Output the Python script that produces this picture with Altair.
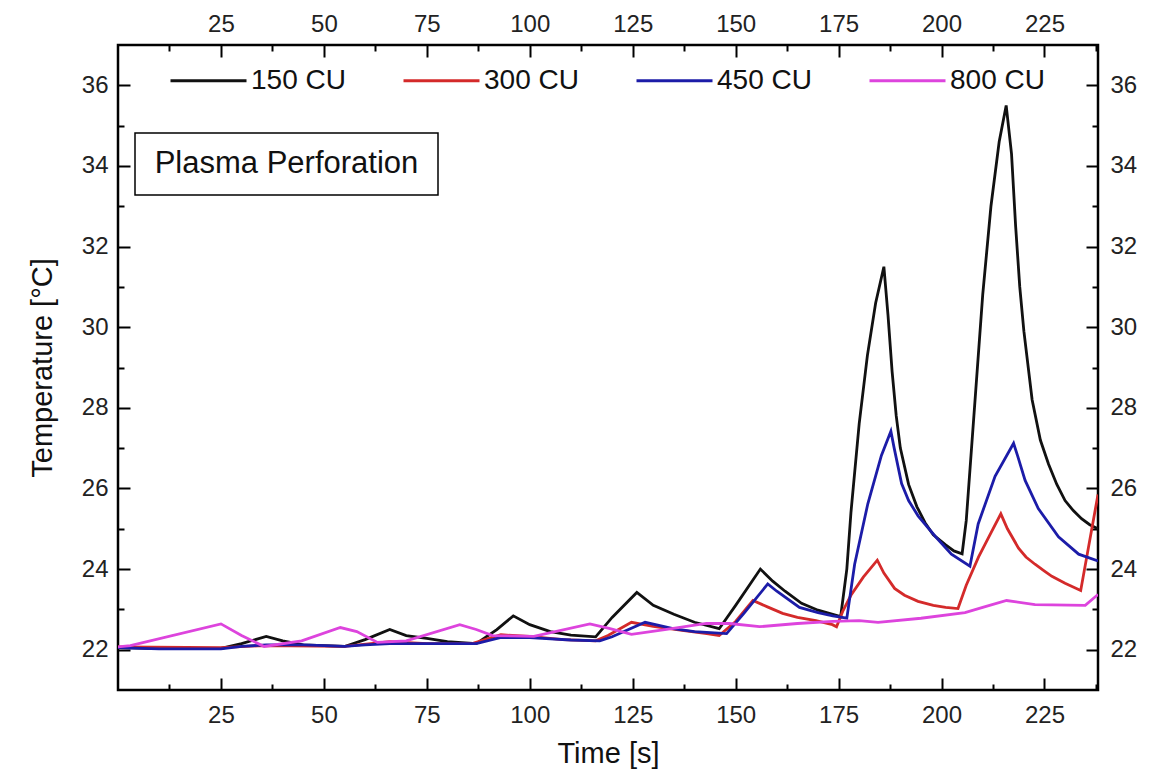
import altair as alt
import pandas as pd

FONT = "Liberation Sans"

SERIES = ["150 CU", "300 CU", "450 CU", "800 CU"]
COLORS = ["#111111", "#d42a2a", "#1c1ca8", "#dd44dd"]
BOX_LABEL = "Plasma Perforation"

# 150 CU
B_T = [0, 10, 25, 30, 36, 40, 45, 55, 60, 66, 70, 75, 80, 87, 92, 96, 100, 105, 110, 116,
       120, 126, 130, 135, 140, 146, 150, 156, 159, 162, 166, 170, 175.5, 177, 178, 180, 182, 184, 186, 187,
       188, 189, 190, 192, 194, 196, 198, 201, 203, 205, 206, 208, 210, 212, 214, 215.7, 217, 218, 219, 220,
       222, 224, 226, 228, 230, 232, 234, 236, 238]
B_Y = [22.05, 22.03, 22.03, 22.15, 22.33, 22.22, 22.12, 22.08, 22.25, 22.5, 22.35, 22.28, 22.2, 22.15, 22.5, 22.84, 22.62, 22.45, 22.36, 22.32,
       22.8, 23.42, 23.1, 22.88, 22.68, 22.52, 23.1, 24.0, 23.7, 23.45, 23.15, 22.98, 22.82, 24.0, 25.4, 27.6, 29.3, 30.6, 31.5, 30.3,
       28.9, 27.8, 27.0, 26.1, 25.55, 25.15, 24.85, 24.6, 24.45, 24.38, 25.2, 28.0, 30.8, 33.0, 34.6, 35.5, 34.3, 32.5, 31.0, 29.9,
       28.2, 27.2, 26.6, 26.1, 25.7, 25.45, 25.25, 25.1, 25.0]

# 300 CU
R_T = [0, 25, 35, 55, 66, 75, 86, 93, 100, 108, 116, 119, 124.7, 130, 137, 143, 146, 150, 154.2, 158,
       161.4, 165, 169.5, 173.5, 174.5, 176, 178, 181, 184.4, 186, 188.6, 191, 194.3, 198, 201, 204, 206, 209, 212, 214.4,
       216, 218.7, 220.5, 222.7, 225, 226.8, 230, 233.8, 238]
R_Y = [22.07, 22.05, 22.1, 22.08, 22.2, 22.15, 22.15, 22.37, 22.33, 22.25, 22.22, 22.35, 22.68, 22.58, 22.48, 22.4, 22.35, 22.7, 23.22, 23.05,
       22.9, 22.8, 22.72, 22.62, 22.57, 22.95, 23.35, 23.8, 24.22, 23.9, 23.52, 23.35, 23.2, 23.1, 23.05, 23.02, 23.6, 24.3, 24.9, 25.37,
       25.0, 24.52, 24.3, 24.12, 23.95, 23.82, 23.65, 23.47, 25.85]

# 450 CU
U_T = [0, 10, 25, 30, 36, 45, 55, 60, 66, 75, 87, 92.8, 100, 110, 117, 120, 128, 134.8, 140, 147.8,
       152, 157.8, 160, 165.5, 170, 173.6, 177, 178.9, 182.1, 185.4, 187.7, 188.5, 190.3, 192, 194.3, 198.4, 202.4, 206.9, 208.9, 213,
       217.5, 218.5, 220.3, 223.5, 228.4, 233.3, 238]
U_Y = [22.05, 22.02, 22.02, 22.08, 22.12, 22.12, 22.08, 22.12, 22.15, 22.15, 22.15, 22.3, 22.3, 22.24, 22.22, 22.32, 22.68, 22.52, 22.45, 22.4,
       22.9, 23.63, 23.45, 23.05, 22.92, 22.84, 22.78, 24.12, 25.62, 26.82, 27.42, 27.0, 26.12, 25.7, 25.32, 24.82, 24.37, 24.07, 25.12, 26.3,
       27.12, 26.8, 26.2, 25.5, 24.8, 24.37, 24.2]

# 800 CU
M_T = [0, 3, 25, 30, 35.5, 44.6, 54, 58, 63, 70, 83, 87, 91, 101, 114.6, 119.5, 124.7, 132.8, 142.9, 148.5,
       155.8, 165, 173.6, 180, 184.6, 195, 205.7, 210, 215.8, 222.7, 234.9, 238]
M_Y = [22.07, 22.1, 22.64, 22.35, 22.08, 22.22, 22.55, 22.45, 22.18, 22.22, 22.62, 22.5, 22.35, 22.33, 22.64, 22.52, 22.38, 22.5, 22.65, 22.65,
       22.57, 22.65, 22.7, 22.72, 22.68, 22.78, 22.92, 23.05, 23.22, 23.12, 23.1, 23.37]

X_MAJOR = [25, 50, 75, 100, 125, 150, 175, 200, 225]
X_MINOR = [12.5, 37.5, 62.5, 87.5, 112.5, 137.5, 162.5, 187.5, 212.5, 237.5]
Y_MAJOR = [22, 24, 26, 28, 30, 32, 34, 36]
Y_MINOR = [23, 25, 27, 29, 31, 33, 35]

frames = []
for name, ts, ys in zip(SERIES, [B_T, R_T, U_T, M_T], [B_Y, R_Y, U_Y, M_Y]):
    frames.append(pd.DataFrame({"t": ts, "temp": ys, "series": name}))
df = pd.concat(frames, ignore_index=True)

xs = alt.Scale(domain=[0, 238], nice=False, zero=False)
ys_ = alt.Scale(domain=[21, 37], nice=False, zero=False)


def ax(orient, values, size, labels, pad=10, **kw):
    return alt.Axis(orient=orient, values=values, tickSize=size, offset=-size, domain=False,
                    grid=False, labels=labels, labelPadding=pad, labelFontSize=24, labelFont=FONT,
                    labelColor="#222222", tickColor="black", tickWidth=2, **kw)


def ghost(xaxis, yaxis):
    return alt.Chart(df).mark_point(opacity=0).encode(
        x=alt.X("t:Q", scale=xs, axis=xaxis),
        y=alt.Y("temp:Q", scale=ys_, axis=yaxis),
    )


g1 = ghost(ax("top", X_MAJOR, 12, True, pad=9, title=None),
           ax("right", Y_MAJOR, 12, True, pad=12, title=None))
g2 = ghost(ax("bottom", X_MINOR, 6, False, title=None),
           ax("left", Y_MINOR, 6, False, title=None))
g3 = ghost(ax("top", X_MINOR, 6, False, title=None),
           ax("right", Y_MINOR, 6, False, title=None))

lines = alt.Chart(df).mark_line(strokeWidth=2.8, clip=True).encode(
    x=alt.X("t:Q", scale=xs,
            axis=ax("bottom", X_MAJOR, 12, True, pad=13, title="Time [s]", titleFontSize=29,
                    titleFont=FONT, titleFontWeight="normal", titlePadding=12, titleColor="#111111")),
    y=alt.Y("temp:Q", scale=ys_,
            axis=ax("left", Y_MAJOR, 12, True, pad=10, title="Temperature [°C]", titleFontSize=29,
                    titleFont=FONT, titleFontWeight="normal", titlePadding=24, titleColor="#111111")),
    color=alt.Color("series:N", scale=alt.Scale(domain=SERIES, range=COLORS),
                    legend=alt.Legend(orient="none", legendX=51, legendY=-4, direction="horizontal",
                                      columns=4, symbolType="stroke", symbolSize=5776,
                                      symbolStrokeWidth=3, labelFontSize=28, labelFont=FONT,
                                      labelColor="#111111", columnPadding=51, title=None,
                                      padding=0, labelOffset=3)),
)

label_df = pd.DataFrame({"label": [BOX_LABEL]})
box = alt.Chart(label_df).mark_rect(fill="white", stroke="black", strokeWidth=1.5).encode(
    x=alt.value(17), x2=alt.value(320), y=alt.value(88), y2=alt.value(150)
)
box_text = alt.Chart(label_df).mark_text(font=FONT, fontSize=31, align="center",
                                         baseline="middle", color="#111111").encode(
    x=alt.value(168.5), y=alt.value(119), text="label:N"
)

chart = alt.layer(g1, g2, g3, lines, box, box_text).resolve_axis(
    x="independent", y="independent"
).properties(
    width=980, height=645,
    autosize=alt.AutoSizeParams(type="none"),
    padding={"left": 110, "top": 37, "right": 52, "bottom": 88},
    background="white",
).configure_view(stroke="black", strokeWidth=2.5)

chart.save("out.html", embed_options={"renderer": "svg", "actions": False})
